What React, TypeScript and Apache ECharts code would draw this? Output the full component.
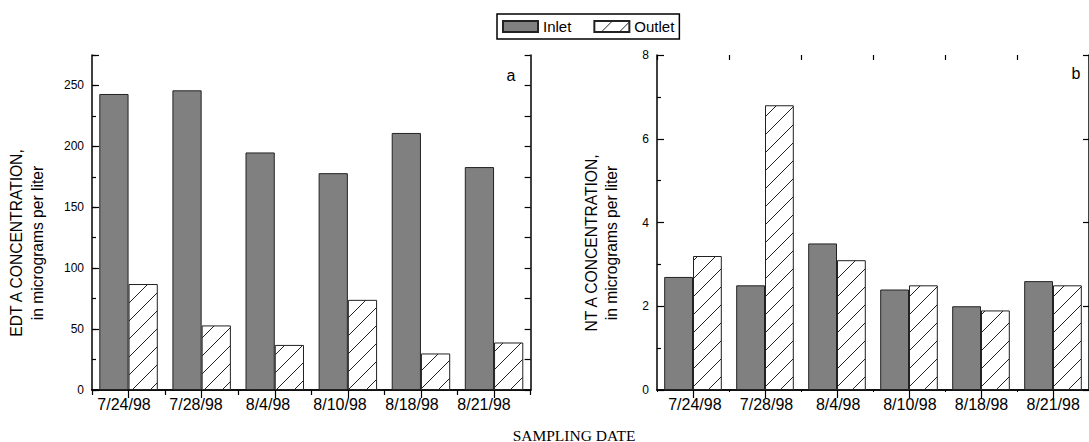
import React, { useEffect, useRef } from "react";
import * as echarts from "echarts";

// Sampling dates shared by both panels
const categories = ["7/24/98", "7/28/98", "8/4/98", "8/10/98", "8/18/98", "8/21/98"];

// Panel a: EDTA, micrograms per liter
const edtaInlet = [243, 246, 195, 178, 211, 183];
const edtaOutlet = [87, 53, 37, 74, 30, 39];

// Panel b: NTA, micrograms per liter
const ntaInlet = [2.7, 2.5, 3.5, 2.4, 2.0, 2.6];
const ntaOutlet = [3.2, 6.8, 3.1, 2.5, 1.9, 2.5];

// Value-axis tick labels
const edtaTickLabels = [0, 50, 100, 150, 200, 250];
const ntaTickLabels = [0, 2, 4, 6, 8];

const SANS = "Liberation Sans, Arial, sans-serif";
const SERIF = "Liberation Serif, Times New Roman, serif";

function makeHatch(): any {
  const size = 18;
  const c = document.createElement("canvas");
  c.width = size;
  c.height = size;
  const ctx = c.getContext("2d")!;
  ctx.fillStyle = "#ffffff";
  ctx.fillRect(0, 0, size, size);
  ctx.strokeStyle = "#222222";
  ctx.lineWidth = 1;
  ctx.beginPath();
  ctx.moveTo(-2, size + 2);
  ctx.lineTo(size + 2, -2);
  ctx.moveTo(-2, 2);
  ctx.lineTo(2, -2);
  ctx.moveTo(size - 2, size + 2);
  ctx.lineTo(size + 2, size - 2);
  ctx.stroke();
  return { image: c.toDataURL(), repeat: "repeat", imageWidth: size, imageHeight: size };
}

export default function App() {
  const ref = useRef<HTMLDivElement>(null);

  useEffect(() => {
    if (!ref.current) return;
    const chart = echarts.init(ref.current, undefined, { renderer: "svg" });
    const hatch = makeHatch();

    const frame = { show: true, lineStyle: { color: "#000", width: 1.5 } };
    const noLabel = { show: false };
    const noSplit = { show: false };

    const gridA = { left: 92, top: 55, width: 438.6, height: 335 };
    const gridB = { left: 657, top: 55, width: 438.8, height: 335 };
    const labelGridA = { left: 88, top: 55, width: 432, height: 335 };
    const labelGridB = { left: 659, top: 55, width: 432, height: 335 };

    const bottomAxis = (gridIndex: number) => ({
      type: "category",
      gridIndex,
      position: "bottom",
      data: categories,
      axisLine: frame,
      axisTick: { show: true, inside: false, length: 2, lineStyle: { color: "#000", width: 1 } },
      axisLabel: noLabel,
      splitLine: noSplit,
    });
    const topCenterAxis = (gridIndex: number) => ({
      type: "category",
      gridIndex,
      position: "top",
      data: categories,
      axisLine: frame,
      axisTick: { show: true, inside: true, alignWithLabel: true, length: 8, lineStyle: { color: "#000", width: 1.2 } },
      axisLabel: noLabel,
      splitLine: noSplit,
    });
    const topEdgeAxis = (gridIndex: number) => ({
      type: "category",
      gridIndex,
      position: "top",
      data: categories,
      axisLine: { show: false },
      axisTick: { show: true, inside: true, length: 5, lineStyle: { color: "#000", width: 1.2 } },
      axisLabel: noLabel,
      splitLine: noSplit,
    });
    const labelAxis = (gridIndex: number) => ({
      type: "category",
      gridIndex,
      position: "bottom",
      data: categories,
      axisLine: { show: false },
      axisTick: { show: false },
      axisLabel: { show: true, margin: 6, fontSize: 16, color: "#000", fontFamily: SANS },
      splitLine: noSplit,
    });

    const edtaMax = 275;
    const edtaStep = edtaTickLabels[1] - edtaTickLabels[0];
    const ntaMax = ntaTickLabels[ntaTickLabels.length - 1];
    const ntaStep = ntaTickLabels[1] - ntaTickLabels[0];

    const option: any = {
      animation: false,
      backgroundColor: "#fff",
      textStyle: { fontFamily: SANS },
      legend: {
        left: 497,
        top: 14,
        orient: "horizontal",
        icon: "rect",
        itemWidth: 35,
        itemHeight: 11,
        itemGap: 22,
        padding: [5, 5],
        borderColor: "#000",
        borderWidth: 1.5,
        selectedMode: false,
        textStyle: { fontSize: 15, color: "#000", fontFamily: SANS },
        data: ["Inlet", "Outlet"],
      },
      grid: [gridA, gridB, labelGridA, labelGridB],
      xAxis: [
        bottomAxis(0),
        topCenterAxis(0),
        topEdgeAxis(0),
        bottomAxis(1),
        topCenterAxis(1),
        topEdgeAxis(1),
        labelAxis(2),
        labelAxis(3),
      ],
      yAxis: [
        {
          type: "value",
          gridIndex: 0,
          position: "left",
          min: 0,
          max: edtaMax,
          interval: edtaStep,
          axisLine: frame,
          axisTick: { show: true, inside: true, length: 7, lineStyle: { color: "#000", width: 1.2 } },
          axisLabel: {
            show: true,
            margin: 8,
            fontSize: 12,
            color: "#000",
            fontFamily: SANS,
            formatter: (v: number) => (edtaTickLabels.indexOf(v) >= 0 ? String(v) : ""),
          },
          splitLine: noSplit,
        },
        {
          type: "value",
          gridIndex: 0,
          position: "left",
          min: 0,
          max: edtaMax,
          interval: edtaStep / 2,
          axisLine: { show: false },
          axisTick: { show: true, inside: true, length: 4, lineStyle: { color: "#000", width: 1.2 } },
          axisLabel: noLabel,
          splitLine: noSplit,
        },
        {
          type: "value",
          gridIndex: 0,
          position: "right",
          min: 0,
          max: edtaMax,
          interval: edtaStep / 2,
          axisLine: frame,
          axisTick: { show: true, inside: true, length: 6, lineStyle: { color: "#000", width: 1.2 } },
          axisLabel: noLabel,
          splitLine: noSplit,
        },
        {
          type: "value",
          gridIndex: 1,
          position: "left",
          min: 0,
          max: ntaMax,
          interval: ntaStep,
          axisLine: frame,
          axisTick: { show: true, inside: true, length: 7, lineStyle: { color: "#000", width: 1.2 } },
          minorTick: { show: true, splitNumber: 2, length: 4, lineStyle: { color: "#000", width: 1.2 } },
          axisLabel: { show: true, margin: 8, fontSize: 12, color: "#000", fontFamily: SANS },
          splitLine: noSplit,
          minorSplitLine: { show: false },
        },
        {
          type: "value",
          gridIndex: 1,
          position: "right",
          min: 0,
          max: ntaMax,
          interval: ntaStep,
          axisLine: frame,
          axisTick: { show: true, inside: true, length: 6, lineStyle: { color: "#000", width: 1.2 } },
          axisLabel: noLabel,
          splitLine: noSplit,
        },
        { type: "value", gridIndex: 2, show: false, min: 0, max: 1 },
        { type: "value", gridIndex: 3, show: false, min: 0, max: 1 },
      ],
      series: [
        {
          name: "Inlet",
          type: "bar",
          xAxisIndex: 0,
          yAxisIndex: 0,
          data: edtaInlet,
          barGap: "0%",
          barCategoryGap: "20%",
          itemStyle: { color: "#808080", borderColor: "#222", borderWidth: 1 },
        },
        {
          name: "Outlet",
          type: "bar",
          xAxisIndex: 0,
          yAxisIndex: 0,
          data: edtaOutlet,
          barGap: "0%",
          barCategoryGap: "20%",
          itemStyle: { color: hatch, borderColor: "#222", borderWidth: 1 },
        },
        {
          name: "Inlet",
          type: "bar",
          xAxisIndex: 3,
          yAxisIndex: 3,
          data: ntaInlet,
          barGap: "0%",
          barCategoryGap: "20%",
          itemStyle: { color: "#808080", borderColor: "#222", borderWidth: 1 },
        },
        {
          name: "Outlet",
          type: "bar",
          xAxisIndex: 3,
          yAxisIndex: 3,
          data: ntaOutlet,
          barGap: "0%",
          barCategoryGap: "20%",
          itemStyle: { color: hatch, borderColor: "#222", borderWidth: 1 },
        },
      ],
      graphic: [
        {
          type: "text",
          x: 511,
          y: 75,
          style: { text: "a", fill: "#000", font: `16px ${SANS}`, align: "center", verticalAlign: "middle" },
        },
        {
          type: "text",
          x: 1076,
          y: 73,
          style: { text: "b", fill: "#000", font: `16px ${SANS}`, align: "center", verticalAlign: "middle" },
        },
        {
          type: "text",
          x: 16,
          y: 243,
          rotation: Math.PI / 2,
          style: { text: "EDT A CONCENTRATION,", font: `15.6px ${SANS}`, fill: "#000", align: "center", verticalAlign: "middle" },
        },
        {
          type: "text",
          x: 37,
          y: 243,
          rotation: Math.PI / 2,
          style: { text: "in micrograms per liter", font: `15.6px ${SANS}`, fill: "#000", align: "center", verticalAlign: "middle" },
        },
        {
          type: "text",
          x: 591,
          y: 243,
          rotation: Math.PI / 2,
          style: { text: "NT A CONCENTRATION,", font: `15.6px ${SANS}`, fill: "#000", align: "center", verticalAlign: "middle" },
        },
        {
          type: "text",
          x: 611,
          y: 243,
          rotation: Math.PI / 2,
          style: { text: "in micrograms per liter", font: `15.6px ${SANS}`, fill: "#000", align: "center", verticalAlign: "middle" },
        },
        {
          type: "text",
          x: 574,
          y: 435,
          style: { text: "SAMPLING DATE", font: `15.5px ${SERIF}`, fill: "#000", align: "center", verticalAlign: "middle" },
        },
      ],
    };

    chart.setOption(option);
    return () => {
      chart.dispose();
    };
  }, []);

  return (
    <div
      ref={ref}
      style={{ position: "absolute", left: 0, top: 0, width: 1089, height: 442, background: "#fff" }}
    />
  );
}
